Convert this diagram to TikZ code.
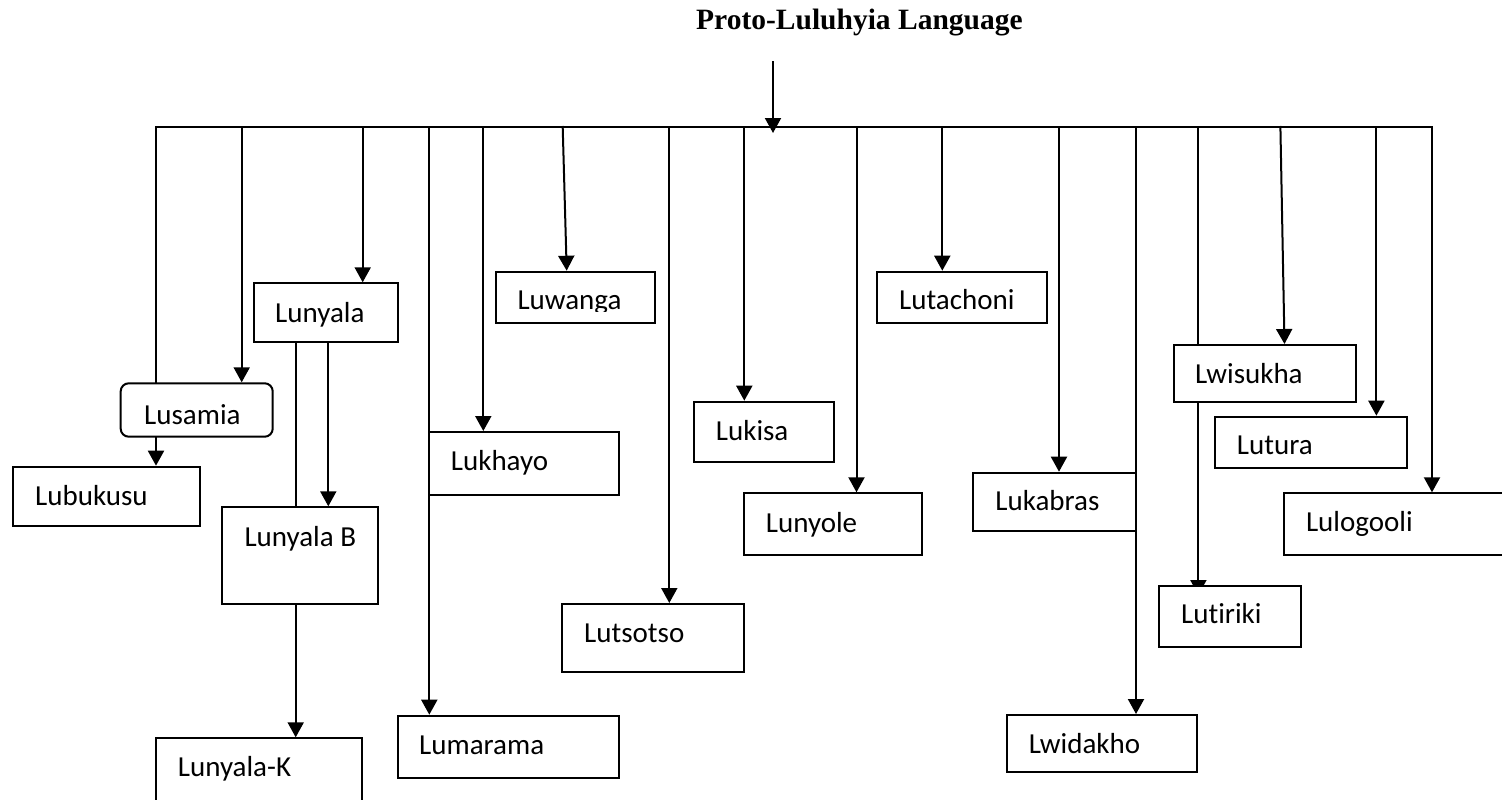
\documentclass[tikz,border=0pt]{standalone}
\usepackage{fontspec}
\setmainfont{Carlito}[Ligatures=NoCommon]
\newfontfamily\titlefont{Liberation Serif}
\usetikzlibrary{arrows.meta}

\tikzset{
  wire/.style={line width=2pt, line cap=rect},
  arr/.style={wire, -{Triangle[width=16pt,length=15pt]}},
  langbox/.style={draw, line width=2pt, fill=white, rectangle, inner sep=0pt},
  langtxt/.style={anchor=base west, inner sep=0pt, font=\fontsize{29}{33}\selectfont},
}

% box helper: name, x1, y1, x2, y2 (pixel units, y downwards)
\newcommand\lbox[6][]{%
  \node[langbox, #1, minimum width={(#4-#2)*1pt}, minimum height={(#5-#3)*1pt}]
    (#6) at ({(#2+#4)/2},{(#3+#5)/2}) {};}

\begin{document}
\begin{tikzpicture}[x=1pt, y=-1pt]
\clip (0,0) rectangle (1502,800);
\useasboundingbox (0,0) rectangle (1502,800);

% title and root arrow
\node[anchor=base west, inner sep=0pt, font=\titlefont\bfseries\fontsize{29.5}{34}\selectfont]
  (title) at (696,30) {Proto-Luluhyia Language};
\coordinate (root) at (773,62);
\coordinate (rootend) at (773,133);

% the bus and its drop points
\coordinate (b01) at (156,127);
\coordinate (b02) at (241.7,127);
\coordinate (b03) at (362.7,127);
\coordinate (b04) at (429.3,127);
\coordinate (b05) at (483.3,127);
\coordinate (b06) at (562.7,127);
\coordinate (b07) at (669.3,127);
\coordinate (b08) at (744.3,127);
\coordinate (b09) at (856.5,127);
\coordinate (b10) at (942.3,127);
\coordinate (b11) at (1059,127);
\coordinate (b12) at (1136,127);
\coordinate (b13) at (1198.4,127);
\coordinate (b14) at (1280.4,127);
\coordinate (b15) at (1376.4,127);
\coordinate (b16) at (1432,127);
\draw[wire] (b01) -- (b16);
\draw[arr] (root) -- (rootend);

% boxes drawn behind the long lines
\lbox{13.3}{466.7}{200}{525.7}{lubukusu}
\lbox{254}{283.3}{398.3}{342.3}{lunyala}
\lbox{222.3}{507.3}{378.3}{604.3}{lunyalab}
\lbox{155.7}{738.3}{362.3}{812}{lunyalak}
\lbox{429.3}{432}{619.3}{495}{lukhayo}
\lbox{397.7}{715.7}{619.3}{777.7}{lumarama}
\lbox{495.7}{271.7}{655}{322.7}{luwanga}
\lbox{562.3}{604}{744.3}{672.3}{lutsotso}
\lbox{693.7}{401.7}{834}{461.7}{lukisa}
\lbox{744}{493.3}{922}{555}{lunyole}
\lbox{877.4}{271.7}{1046.7}{322.7}{lutachoni}
\lbox{973}{472.7}{1136}{531}{lukabras}
\lbox{1006.7}{715}{1196.7}{771.7}{lwidakho}
\lbox{1215}{416.7}{1407}{467.7}{lutura}
\lbox{1283.9}{493.3}{1512}{555}{lulogooli}

% connectors
\draw[arr] (b01) -- (b01 |- lubukusu.north);
\draw[arr] (b03) -- (b03 |- lunyala.north);
\draw[wire] (lunyala.south -| 295.7,0) -- (lunyalab.north -| 295.7,0);
\draw[arr] (lunyala.south -| 328.3,0) -- (lunyalab.north -| 328.3,0);
\draw[arr] (lunyalab.south -| 295.7,0) -- (lunyalak.north -| 295.7,0);
\draw[arr] (b04) -- (b04 |- lumarama.north);
\draw[arr] (b05) -- (b05 |- lukhayo.north);
\draw[arr] (b06) -- (luwanga.north -| 566.7,0);
\draw[arr] (b07) -- (b07 |- lutsotso.north);
\draw[arr] (b08) -- (b08 |- lukisa.north);
\draw[arr] (b09) -- (b09 |- lunyole.north);
\draw[arr] (b10) -- (b10 |- lutachoni.north);
\draw[arr] (b11) -- (b11 |- lukabras.north);
\draw[arr] (b12) -- (b12 |- lwidakho.north);
\coordinate (tirikitip) at (1198.4,595);
\draw[arr] (b13) -- (tirikitip);
\draw[arr] (b15) -- (b15 |- lutura.north);
\draw[arr] (b16) -- (b16 |- lulogooli.north);

% boxes that sit on top of the lines
\lbox[rounded corners=8pt]{120.7}{383.3}{272.7}{436.7}{lusamia}
\lbox{1173.5}{345}{1355.6}{401.7}{lwisukha}
\lbox{1159}{586}{1301}{647.3}{lutiriki}
\draw[arr] (b02) -- (b02 |- lusamia.north);
\draw[arr] (b14) -- (lwisukha.north -| 1284.5,0);

% labels
\node[langtxt] (t-lusamia) at (144,424.3) {Lusamia};
\node[langtxt] (t-lubukusu) at (35,505) {Lubukusu};
\node[langtxt] (t-lunyala) at (275,322.7) {Lunyala};
\node[langtxt] (t-lunyalab) at (244.3,546.7) {Lunyala B};
\node[langtxt] (t-lunyalak) at (177.7,776.7) {Lunyala-K};
\node[langtxt] (t-lukhayo) at (450.7,470.7) {Lukhayo};
\node[langtxt] (t-lumarama) at (419,754) {Lumarama};
\begin{scope}
  \clip (495,271) rectangle (656,311.7);
  \node[langtxt] (t-luwanga) at (517.3,309) {Luwanga};
\end{scope}
\node[langtxt] (t-lutsotso) at (584,642.7) {Lutsotso};
\node[langtxt] (t-lukisa) at (715.7,440) {Lukisa};
\node[langtxt] (t-lunyole) at (765.7,532.7) {Lunyole};
\node[langtxt] (t-lutachoni) at (899,309.3) {Lutachoni};
\node[langtxt] (t-lukabras) at (995.2,510) {Lukabras};
\node[langtxt] (t-lwidakho) at (1028.6,753.3) {Lwidakho};
\node[langtxt] (t-lwisukha) at (1195,383.3) {Lwisukha};
\node[langtxt] (t-lutiriki) at (1181,623.3) {Lutiriki};
\node[langtxt] (t-lutura) at (1236.7,454) {Lutura};
\node[langtxt] (t-lulogooli) at (1305.8,531.7) {Lulogooli};
\end{tikzpicture}
\end{document}
